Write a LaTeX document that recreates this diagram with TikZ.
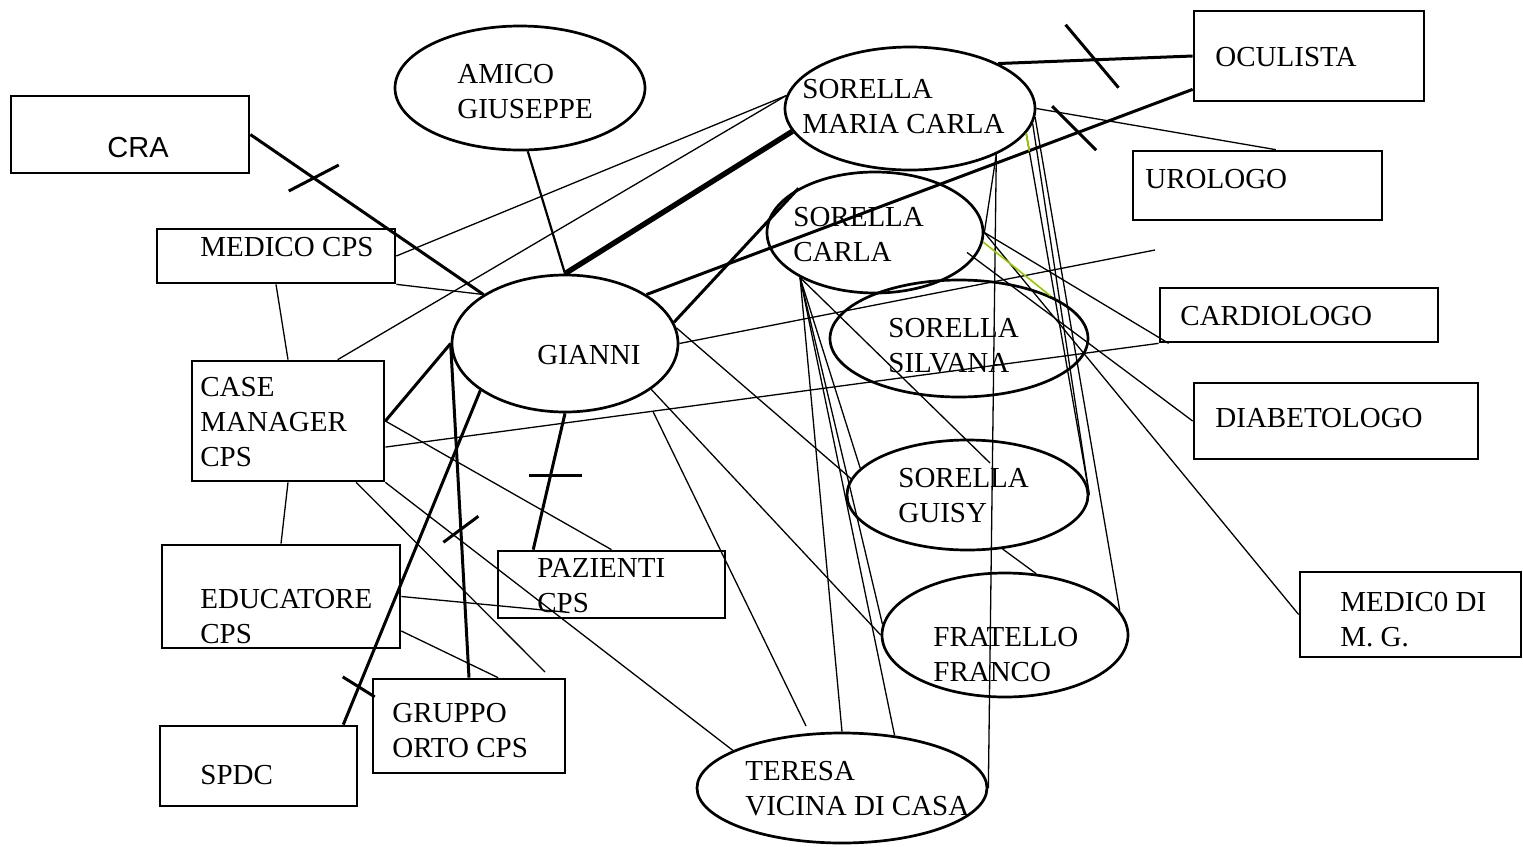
\documentclass[tikz,border=0pt]{standalone}
\usepackage{fontspec}
\setmainfont{Liberation Serif}
\newfontfamily\arialfont{Liberation Sans}
\usetikzlibrary{shapes.geometric}
\definecolor{leafgreen}{RGB}{150,200,0}

\begin{document}
\begin{tikzpicture}[
	x=0.5pt, y=-0.5pt,
	box/.style={draw, line width=1.35pt, inner sep=0pt},
	blob/.style={draw, ellipse, line width=1.35pt, inner sep=0pt},
	txt/.style={anchor=west, align=left, inner sep=0pt,
		font=\fontsize{14.5}{17.5}\selectfont},
	link/.style={line width=0.65pt},
	tie/.style={line width=1.5pt},
	bond/.style={line width=2.7pt},
	cut/.style={line width=1.5pt},
	leaf/.style={line width=0.8pt, draw=leafgreen}
	]
	\useasboundingbox (0,0) rectangle (1523,847);
	
	% services (boxes)
	\node[box, minimum width=119pt, minimum height=38.5pt] (cra) at (130,134.5) {};
	\node[box, minimum width=119pt, minimum height=27pt] (medico) at (276,256) {};
	\node[box, minimum width=96pt, minimum height=60pt] (casemgr) at (288,421) {};
	\node[box, minimum width=119pt, minimum height=51.5pt] (educ) at (281,596.5) {};
	\node[box, minimum width=113.5pt, minimum height=33.5pt] (pazienti) at (611.5,584.5) {};
	\node[box, minimum width=98.5pt, minimum height=40pt] (spdc) at (258.5,766) {};
	\node[box, minimum width=96pt, minimum height=47pt] (orto) at (469,726) {};
	\node[box, minimum width=115pt, minimum height=45pt] (oculista) at (1309,56) {};
	\node[box, minimum width=124.5pt, minimum height=34.5pt] (urologo) at (1257.5,185.5) {};
	\node[box, minimum width=139pt, minimum height=27pt] (cardio) at (1299,315) {};
	\node[box, minimum width=142pt, minimum height=38pt] (diabeto) at (1336,421) {};
	\node[box, minimum width=110.5pt, minimum height=42.5pt] (mmg) at (1410.5,614.5) {};
	
	% people (ellipses)
	\node[blob, minimum width=125pt, minimum height=62pt] (amico) at (520,88) {};
	\node[blob, minimum width=125pt, minimum height=61.5pt] (mc) at (910,108.5) {};
	\node[blob, minimum width=108pt, minimum height=60.5pt] (scarla) at (875,232.5) {};
	\node[blob, minimum width=129pt, minimum height=58.5pt] (silvana) at (959,338.5) {};
	\node[blob, minimum width=120.5pt, minimum height=55pt] (guisy) at (967.5,495) {};
	\node[blob, minimum width=123pt, minimum height=62pt] (franco) at (1005,635) {};
	\node[blob, minimum width=145pt, minimum height=55pt] (teresa) at (842,788) {};
	\node[blob, minimum width=113pt, minimum height=68.5pt] (gianni) at (565,343.5) {};
	
	% labels
	\node[txt, font=\fontsize{14.5}{17.5}\arialfont] (cra-t) at (107,148) {CRA};
	\node[txt] (medico-t) at (200,247) {MEDICO CPS};
	\node[txt] (casemgr-t) at (200,422) {CASE\\MANAGER\\CPS};
	\node[txt] (educ-t) at (200,616.5) {EDUCATORE\\CPS};
	\node[txt] (pazienti-t) at (537,585.5) {PAZIENTI\\CPS};
	\node[txt] (spdc-t) at (200,775) {SPDC};
	\node[txt] (orto-t) at (392,730.5) {GRUPPO\\ORTO CPS};
	\node[txt] (oculista-t) at (1215,57) {OCULISTA};
	\node[txt] (urologo-t) at (1145,179) {UROLOGO};
	\node[txt] (cardio-t) at (1180,316) {CARDIOLOGO};
	\node[txt] (diabeto-t) at (1215,418) {DIABETOLOGO};
	\node[txt] (mmg-t) at (1340,620) {MEDIC0 DI\\M. G.};
	\node[txt] (amico-t) at (457,91.5) {AMICO\\GIUSEPPE};
	\node[txt] (mc-t) at (802,106.5) {SORELLA\\MARIA CARLA};
	\node[txt] (scarla-t) at (793,234.5) {SORELLA\\CARLA};
	\node[txt] (silvana-t) at (888,345.5) {SORELLA\\SILVANA};
	\node[txt] (guisy-t) at (898,495.5) {SORELLA\\GUISY};
	\node[txt] (franco-t) at (933,654.5) {FRATELLO\\FRANCO};
	\node[txt] (teresa-t) at (745,788.5) {TERESA\\VICINA DI CASA};
	\node[txt] (gianni-t) at (537,355) {GIANNI};
	
	\coordinate (loose-a) at (545,672);
	\coordinate (loose-b) at (1155,250);
	
	% strong ties, some of them cut
	\draw[tie] (cra.east) -- coordinate[pos=.272] (cut-cra) (gianni.149);
	\draw[cut] ([shift={(-25,13)}]cut-cra) -- ([shift={(25,-13)}]cut-cra);
	\draw[tie, line width=1.1pt] (amico.-83) -- (gianni.north);
	\draw[bond] (gianni.north) -- (mc.191);
	\draw[tie] (gianni.31) -- coordinate[pos=.783] (cut-ocu) (oculista.196);
	\draw[cut] ([shift={(-22,-27.7)}]cut-ocu) -- ([shift={(22,16.3)}]cut-ocu);
	\draw[tie] (gianni.11) -- (scarla.150);
	\draw[tie] (mc.27) -- coordinate[pos=.48] (cut-mc) (oculista.west);
	\draw[cut] ([shift={(-26,-35.2)}]cut-mc) -- ([shift={(27,27.8)}]cut-mc);
	\draw[tie] (casemgr.east) -- (gianni.west);
	\draw[tie] (gianni.west) -- coordinate[pos=.556] (cut-orto) (orto.north);
	\draw[cut] ([shift={(-17.5,13)}]cut-orto) -- ([shift={(17.5,-13)}]cut-orto);
	\draw[tie] (gianni.209) -- coordinate[pos=.887] (cut-spdc) (spdc.26);
	\draw[cut] ([shift={(-16,-10)}]cut-spdc) -- ([shift={(16,10)}]cut-spdc);
	\draw[tie] (gianni.south) -- coordinate[pos=.453] (cut-paz) (pazienti.156);
	\draw[cut] ([shift={(-22,0)}]cut-paz) -- ([shift={(31,0)}]cut-paz);
	
	% CPS side
	\draw[link] (medico.east) -- (mc.174);
	\draw[link] (medico.south east) -- (gianni.149);
	\draw[link] (medico.south) -- (casemgr.north);
	\draw[link] (casemgr.51) -- (mc.174);
	\draw[link] (casemgr.-15) -- (cardio.south west);
	\draw[link] (casemgr.east) -- (pazienti.north);
	\draw[link] (casemgr.-42) -- (loose-a);
	\draw[link] (casemgr.south east) -- (teresa.161);
	\draw[link] (casemgr.south) -- (educ.north);
	\draw[link] (educ.east) -- ([shift={(-42,28)}]pazienti.center);
	\draw[link] (educ.-16) -- (orto.59);
	
	% Gianni
	\draw[link] (gianni.east) -- (loose-b);
	\draw[link] ([shift={(88,68)}]gianni.center) -- ([shift={(-36,-62)}]teresa.center);
	\draw[link] (gianni.-28) -- (franco.west);
	\draw[link] (gianni.8) -- (guisy.172);
	
	% family
	\draw[link] (scarla.211) -- (teresa.north);
	\draw[link] (scarla.211) -- (teresa.45);
	\draw[link] (scarla.211) -- (guisy.166);
	\draw[link] (scarla.211) -- (franco.175);
	\draw[link] (scarla.211) -- ([shift={(22.5,-32)}]guisy.center);
	\draw[link] (mc.-28) -- (teresa.east);
	\draw[link] (mc.-28) -- (scarla.east);
	\draw[link] (mc.east) -- (urologo.63);
	\draw[link] (mc.-12) -- coordinate[pos=.05] (leaf-mc) (guisy.east);
	\draw[leaf] (mc.-12) -- (leaf-mc);
	\draw[link] (mc.-4) -- (franco.12);
	\draw[link] (mc.-7) -- (guisy.east);
	\draw[link] (guisy.-57) -- (franco.63);
	
	% doctors
	\draw[link] (scarla.east) -- ([xshift=5pt]cardio.south west);
	\draw[link] (scarla.east) -- (mmg.west);
	\draw[link] ([shift={(92,20)}]scarla.center) -- (diabeto.west);
	\draw[leaf] (scarla.-5) -- (silvana.25);
	
\end{tikzpicture}
\end{document}
